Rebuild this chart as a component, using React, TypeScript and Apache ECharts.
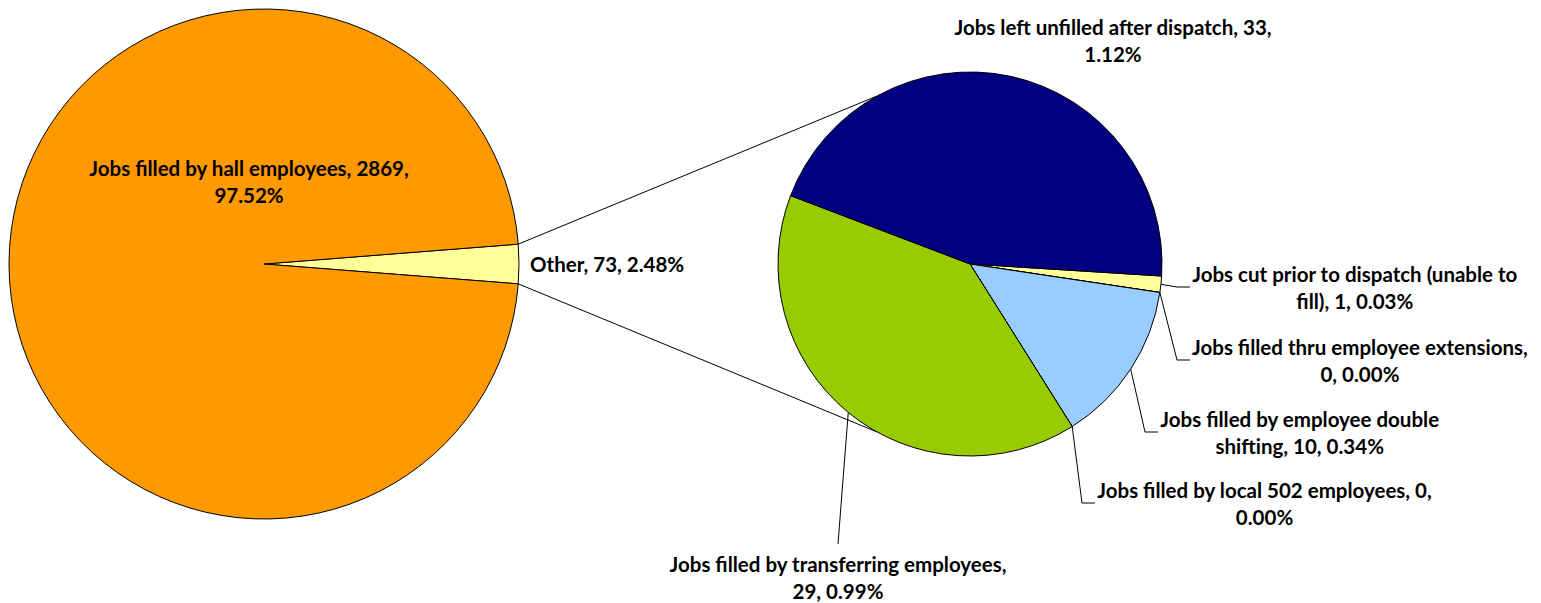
import React, { useEffect, useRef } from "react";
import * as echarts from "echarts";

// ---------- data ----------
const mainNames = ["Other", "Jobs filled by hall employees"];
const mainValues = [73, 2869];
const mainColors = ["#FFFF99", "#FF9900"];

const detailNames = [
  "Jobs cut prior to dispatch (unable to fill)",
  "Jobs filled thru employee extensions",
  "Jobs filled by employee double shifting",
  "Jobs filled by local 502 employees",
  "Jobs filled by transferring employees",
  "Jobs left unfilled after dispatch",
];
const detailValues = [1, 0, 10, 0, 29, 33];
const detailColors = ["#FFFF99", "#FF99CC", "#99CCFF", "#CC99FF", "#99CC00", "#000080"];

// number of words on the first line of each label (text wrapping)
const mainWrap = [99, 6];
const detailWrap = [7, 5, 5, 7, 5, 6];

// ---------- layout ----------
const C1 = [264, 264];
const R1 = 255;
const C2 = [970, 264];
const R2 = 192;
const DETAIL_START = -3.6; // degrees (ECharts, counter-clockwise positive)
const CONNECT_ANGLE = 61; // degrees from leftward direction on second pie

const FONT = {
  color: "#000",
  fontWeight: "bold" as const,
  fontSize: 20.5,
  fontFamily: "Lato, 'Open Sans', sans-serif",
  lineHeight: 27,
};

const TOTAL = mainValues.reduce((a, b) => a + b, 0);
const DETAIL_SUM = detailValues.reduce((a, b) => a + b, 0);
const MAIN_HALF = (mainValues[0] / TOTAL) * 180;

function buildLabel(name: string, value: number, wrap: number) {
  const pct = ((value / TOTAL) * 100).toFixed(2);
  const words = `${name}, ${value}, ${pct}%`.split(" ");
  if (wrap >= words.length) return words.join(" ");
  return words.slice(0, wrap).join(" ") + "\n" + words.slice(wrap).join(" ");
}

function detailEdgePoint(i: number) {
  let cum = 0;
  for (let k = 0; k < i; k++) cum += detailValues[k];
  const mid = -DETAIL_START + ((cum + detailValues[i] / 2) / DETAIL_SUM) * 360;
  const a = (mid * Math.PI) / 180;
  return [C2[0] + R2 * Math.cos(a), C2[1] + R2 * Math.sin(a)];
}

type Anchor = { kind: "elbow" | "below" | "none"; x: number; y: number };
const detailAnchors: Anchor[] = [
  { kind: "elbow", x: 1192, y: 287 },
  { kind: "elbow", x: 1192, y: 360 },
  { kind: "elbow", x: 1160, y: 432 },
  { kind: "elbow", x: 1097, y: 503 },
  { kind: "below", x: 838, y: 577 },
  { kind: "none", x: 1113, y: 40 },
];
const mainAnchors = [
  { x: 530, y: 264, align: "left" },
  { x: 249, y: 181, align: "center" },
];

export default function App() {
  const ref = useRef<HTMLDivElement>(null);

  useEffect(() => {
    if (!ref.current) return;
    const chart = echarts.init(ref.current, undefined, { renderer: "svg" });

    const h = (MAIN_HALF * Math.PI) / 180;
    const p1 = [C1[0] + R1 * Math.cos(h), C1[1] - R1 * Math.sin(h)];
    const p2 = [C1[0] + R1 * Math.cos(h), C1[1] + R1 * Math.sin(h)];
    const ca = (CONNECT_ANGLE * Math.PI) / 180;
    const q1 = [C2[0] - R2 * Math.cos(ca), C2[1] - R2 * Math.sin(ca)];
    const q2 = [C2[0] - R2 * Math.cos(ca), C2[1] + R2 * Math.sin(ca)];

    const option: any = {
      animation: false,
      backgroundColor: "#fff",
      graphic: [
        {
          type: "line",
          z: 1,
          silent: true,
          shape: { x1: p1[0], y1: p1[1], x2: q1[0], y2: q1[1] },
          style: { stroke: "#000", lineWidth: 1 },
        },
        {
          type: "line",
          z: 1,
          silent: true,
          shape: { x1: p2[0], y1: p2[1], x2: q2[0], y2: q2[1] },
          style: { stroke: "#000", lineWidth: 1 },
        },
      ],
      series: [
        {
          type: "pie",
          z: 2,
          center: C1,
          radius: R1,
          startAngle: MAIN_HALF,
          clockwise: true,
          avoidLabelOverlap: false,
          silent: true,
          itemStyle: { borderColor: "#000", borderWidth: 1 },
          emphasis: { disabled: true },
          label: {
            show: true,
            position: "outside",
            ...FONT,
            formatter: (p: any) => buildLabel(p.name, p.value, mainWrap[p.dataIndex]),
          },
          labelLine: { show: false },
          labelLayout: (params: any) => {
            const a = mainAnchors[params.dataIndex];
            return { x: a.x, y: a.y, align: a.align, verticalAlign: "middle" };
          },
          data: mainNames.map((n, i) => ({
            name: n,
            value: mainValues[i],
            itemStyle: { color: mainColors[i] },
          })),
        },
        {
          type: "pie",
          z: 2,
          center: C2,
          radius: R2,
          startAngle: DETAIL_START,
          clockwise: true,
          avoidLabelOverlap: false,
          minShowLabelAngle: 0,
          silent: true,
          itemStyle: { borderColor: "#000", borderWidth: 1 },
          emphasis: { disabled: true },
          label: {
            show: true,
            position: "outside",
            ...FONT,
            formatter: (p: any) => buildLabel(p.name, p.value, detailWrap[p.dataIndex]),
          },
          labelLine: {
            show: true,
            smooth: false,
            lineStyle: { color: "#000", width: 1 },
          },
          labelLayout: (params: any) => {
            const i = params.dataIndex;
            const a = detailAnchors[i];
            const w = params.labelRect.width;
            const hgt = params.labelRect.height;
            const s = detailEdgePoint(i);
            if (a.kind === "elbow") {
              return {
                x: a.x + w / 2,
                y: a.y,
                align: "center",
                verticalAlign: "middle",
                labelLinePoints: [s, [a.x - 15, a.y], [a.x - 2, a.y]],
              };
            }
            if (a.kind === "below") {
              return {
                x: a.x,
                y: a.y,
                align: "center",
                verticalAlign: "middle",
                labelLinePoints: [s, [a.x, a.y - hgt / 2 - 6]],
              };
            }
            return {
              x: a.x,
              y: a.y,
              align: "center",
              verticalAlign: "middle",
              labelLinePoints: [s, s],
            };
          },
          data: detailNames.map((n, i) => ({
            name: n,
            value: detailValues[i],
            itemStyle: { color: detailColors[i] },
          })),
        },
      ],
    };

    chart.setOption(option);
    return () => chart.dispose();
  }, []);

  return (
    <div
      ref={ref}
      style={{ position: "fixed", left: 0, top: 0, width: 1541, height: 603 }}
    />
  );
}
